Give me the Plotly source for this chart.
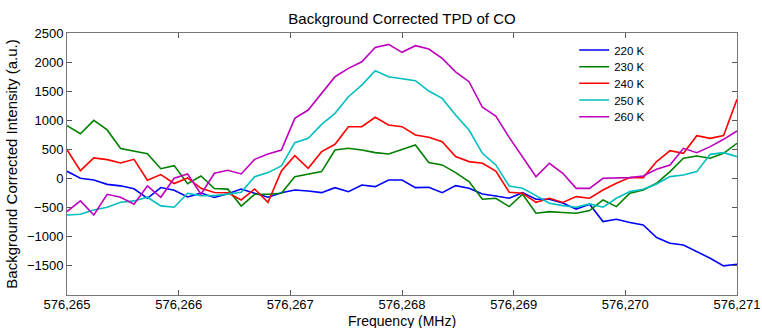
import plotly.graph_objects as go

freq_mhz = [576265.00, 576265.12, 576265.24, 576265.36, 576265.48, 576265.60, 576265.72, 576265.84,
            576265.96, 576266.08, 576266.20, 576266.32, 576266.44, 576266.56, 576266.68, 576266.80,
            576266.92, 576267.04, 576267.16, 576267.28, 576267.40, 576267.52, 576267.64, 576267.76,
            576267.88, 576268.00, 576268.12, 576268.24, 576268.36, 576268.48, 576268.60, 576268.72,
            576268.84, 576268.96, 576269.08, 576269.20, 576269.32, 576269.44, 576269.56, 576269.68,
            576269.80, 576269.92, 576270.04, 576270.16, 576270.28, 576270.40, 576270.52, 576270.64,
            576270.76, 576270.88, 576271.00]

k220 = [125, 5, -25, -100, -125, -175, -340, -155, -200, -315, -250, -325, -260, -180, -253, -320,
        -242, -196, -213, -242, -156, -225, -110, -139, -24, -24, -156, -150, -242, -121, -167, -265,
        -299, -339, -242, -356, -356, -420, -525, -442, -739, -699, -756, -796, -1014, -1111, -1140,
        -1254, -1369, -1500, -1472]

k230 = [910, 770, 1000, 835, 515, 475, 428, 170, 222, -90, 45, -172, -182, -471, -270, -270,
        -253, 33, 73, 119, 491, 520, 491, 445, 422, 503, 577, 274, 234, 102, -53, -356,
        -339, -482, -270, -596, -568, -582, -596, -550, -367, -482, -253, -196, -81, 119, 348,
        388, 348, 434, 606]

k240 = [495, 135, 355, 325, 268, 330, -30, 68, -85, 10, -168, -240, -245, -368, -179, -408,
        130, 394, 176, 462, 588, 891, 891, 1052, 920, 891, 748, 708, 634, 377, 291, 262,
        130, -236, -253, -408, -339, -410, -310, -339, -196, -81, 16, 16, 291, 479, 434,
        737, 691, 737, 1360]

k250 = [-625, -613, -539, -493, -407, -384, -321, -470, -493, -253, -293, -293, -267, -236, 33, 102,
        216, 617, 691, 931, 1120, 1406, 1606, 1852, 1749, 1721, 1681, 1503, 1377, 1091, 834, 434,
        234, -127, -167, -293, -425, -465, -493, -436, -493, -339, -224, -184, -93, 33, 62,
        119, 416, 445, 376]

k260 = [-567, -384, -625, -270, -321, -441, -127, -321, 5, 79, -270, 90, 142, 79, 330, 422,
        491, 1034, 1177, 1463, 1749, 1892, 2006, 2253, 2305, 2168, 2282, 2225, 2065, 1834, 1663, 1224,
        1074, 708, 377, 33, 262, 90, -169, -169, 5, 16, 16, 45, 159, 233, 519,
        445, 548, 674, 817]

series_names = ["220 K", "230 K", "240 K", "250 K", "260 K"]
series_values = [k220, k230, k240, k250, k260]
series_colors = ["#0000ff", "#008000", "#ff0000", "#00bfbf", "#bf00bf"]

x_ticks = [576265, 576266, 576267, 576268, 576269, 576270, 576271]
x_ticktext = ["576,265", "576,266", "576,267", "576,268", "576,269", "576,270", "576,271"]
y_ticks = [-1500, -1000, -500, 0, 500, 1000, 1500, 2000, 2500]

W, H = 762, 328
ML, MR, MT, MB = 67, 25, 33, 33
plot_h = H - MT - MB
legend_rows_px = [50, 66.7, 83.3, 100, 116.7]   # legend row centres (pixels from top)
legend_ids = ["legend", "legend2", "legend3", "legend4", "legend5"]

fig = go.Figure()
for name, vals, col, lid in zip(series_names, series_values, series_colors, legend_ids):
    fig.add_trace(go.Scatter(x=freq_mhz, y=vals, mode="lines", name=name, legend=lid,
                             line=dict(color=col, width=1.6)))

font_family = "Liberation Sans, Arial, sans-serif"
legend_layout = {}
for lid, ypx in zip(legend_ids, legend_rows_px):
    legend_layout[lid] = dict(x=0.757, y=(H - MB - ypx) / plot_h, xanchor="left", yanchor="middle",
                              bgcolor="rgba(255,255,255,0)", borderwidth=0,
                              font=dict(size=11.5, family=font_family, color="black"))

fig.update_layout(
    width=W, height=H,
    margin=dict(l=ML, r=MR, t=MT, b=MB),
    paper_bgcolor="white", plot_bgcolor="white",
    font=dict(family=font_family, size=13, color="black"),
    title=dict(text="Background Corrected TPD of CO", x=0.5, xref="paper", xanchor="center",
               y=1 - 19 / H, yref="container", yanchor="middle", font=dict(size=15)),
    showlegend=True,
    **legend_layout,
)
# x-axis title placed below the tick labels
fig.add_annotation(text="Frequency (MHz)", xref="paper", yref="paper", x=0.5, y=-(321 - (H - MB)) / plot_h,
                   xanchor="center", yanchor="middle", showarrow=False, font=dict(size=14))
fig.update_xaxes(range=[576265, 576271], tickmode="array", tickvals=x_ticks, ticktext=x_ticktext,
                 ticks="inside", ticklen=5, tickcolor="#555", showline=True, linecolor="#777",
                 linewidth=1, mirror="ticks", showgrid=False, zeroline=False, automargin=False,
                 ticklabelstandoff=-3)
fig.update_yaxes(range=[-2000, 2500], tickmode="array", tickvals=y_ticks,
                 ticks="inside", ticklen=5, tickcolor="#555", showline=True, linecolor="#777",
                 linewidth=1, mirror="ticks", showgrid=False, zeroline=False, automargin=False,
                 title=dict(text="Background Corrected Intensity (a.u.)", standoff=5, font=dict(size=15)))

fig.write_html("out.html")
